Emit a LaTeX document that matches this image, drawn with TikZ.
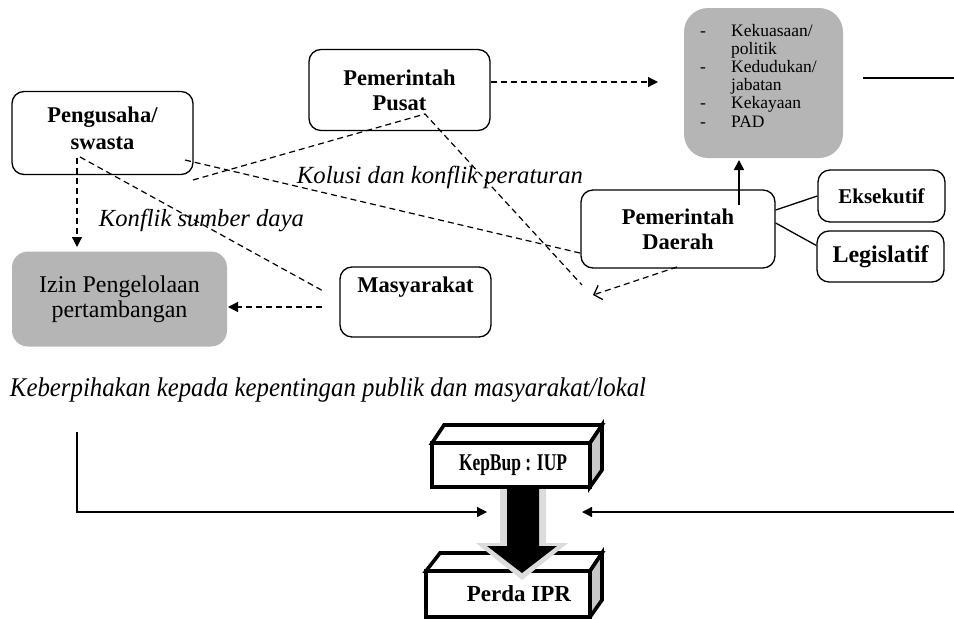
\documentclass[tikz,border=0pt]{standalone}
\usepackage{fontspec}
\usepackage{graphicx}
\setmainfont{Liberation Serif}
\usetikzlibrary{arrows.meta,calc}

\definecolor{boxgray}{RGB}{181,181,181}
\definecolor{sidegray}{RGB}{200,200,200}
\definecolor{shadegray}{RGB}{220,220,220}

\begin{document}
\begin{tikzpicture}[x=1pt,y=-1pt,
  rbox/.style={draw, line width=1.3pt, rounded corners=12pt, align=center,
    inner sep=0pt, font=\fontsize{22.5}{25}\selectfont\bfseries},
  gbox/.style={fill=boxgray, rounded corners=16pt, inner sep=0pt, align=center,
    font=\fontsize{24}{25}\selectfont},
  dline/.style={line width=1.2pt, dash pattern=on 6pt off 4pt},
  tri/.style={-{Triangle[length=10pt,width=10pt]}},
  barb/.style={-{Straight Barb[length=7pt,width=15pt,line width=1.3pt]}},
  slab/.style={line width=3.6pt, line join=miter},
  lbl/.style={inner sep=0pt, anchor=base}
]
\useasboundingbox (0,0) rectangle (954,619);

% ---- actors ----
\node[rbox, minimum width=181pt, minimum height=83pt] (peng) at (102.5,133) {Pengusaha/\\[2pt]swasta\\[-16pt]\mbox{}};
\node[rbox, minimum width=181pt, minimum height=81pt] (pusat) at (399.5,90) {Pemerintah\\Pusat};
\node[rbox, minimum width=194pt, minimum height=78pt] (daerah) at (678,229) {Pemerintah\\Daerah};
\node[rbox, minimum width=127pt, minimum height=52pt, font=\fontsize{21}{24}\selectfont\bfseries] (eks) at (881.5,196) {Eksekutif};
\node[rbox, minimum width=127pt, minimum height=51pt, font=\fontsize{24}{27}\selectfont\bfseries] (leg) at (880.5,256.5) {Legislatif};
\node[rbox, minimum width=151pt, minimum height=70pt] (masy) at (415.5,302) {Masyarakat\\[10pt]\mbox{}};

% ---- gray boxes ----
\node[gbox, minimum width=215pt, minimum height=95pt] (izin) at (119.5,299) {Izin Pengelolaan\\pertambangan};
\node[gbox, rounded corners=24pt, minimum width=159pt, minimum height=150pt] (kuasa) at (763.5,83) {};
\node[inner sep=0pt, anchor=base west, font=\fontsize{17.5}{18.2}\selectfont] (kuasalist) at (700,36)
  {\begin{tabular}[t]{@{}p{31pt}@{}l@{}}
    - & Kekuasaan/\\
      & politik\\
    - & Kedudukan/\\
      & jabatan\\
    - & Kekayaan\\
    - & PAD
  \end{tabular}};

% ---- free ends of connectors ----
\coordinate (kuasatip) at (658,82);
\coordinate (lineA) at (863,78);
\coordinate (lineB) at (954,78);
\coordinate (upstart) at (739,205);
\coordinate (uptip) at (739,160);
\coordinate (pengdown) at (77,158);
\coordinate (izintip) at (77,247);
\coordinate (masystart) at (322,307);
\coordinate (izinleft) at (228,307);
\coordinate (pengA) at (80,157);
\coordinate (masyend) at (325,292);
\coordinate (pengB) at (193,180);
\coordinate (pusatbend) at (425,114);
\coordinate (meet) at (582,285);
\coordinate (pengC) at (185,160);
\coordinate (daerahW) at (580,253);
\coordinate (daerahS) at (677,267);
\coordinate (meettip) at (593,295);

% ---- connectors, upper part ----
\draw[dline, tri] (pusat.east |- kuasatip) -- (kuasatip);
\draw[line width=1.3pt] (lineA) -- (lineB);
\draw[line width=1.6pt, tri] (upstart) -- (uptip);
\draw[line width=1.3pt] ([yshift=19pt]daerah.east) -- (eks.west);
\draw[line width=1.3pt] ([yshift=6pt]daerah.east) -- ([yshift=11pt]leg.west);
\draw[dline, tri] (pengdown) -- (izintip);
\draw[dline, tri] (masystart) -- (izinleft);
\draw[dline] (pengA) -- (masyend);
\draw[dline] (pengB) -- (pusatbend) -- (meet);
\draw[dline] (pengC) -- (daerahW);
\draw[dline, barb] (daerahS) -- (meettip);

% ---- labels ----
\node[lbl] (kolusi) at (440,183) {\resizebox{286pt}{!}{\fontsize{24}{28}\selectfont\itshape Kolusi dan konflik peraturan}};
\node[lbl] (konflik) at (201.5,226) {\resizebox{205pt}{!}{\fontsize{22}{26}\selectfont\itshape Konflik sumber daya}};
\node[lbl] (pihak) at (328,396) {\resizebox{636pt}{\height}{\fontsize{27}{31}\selectfont\itshape Keberpihakan kepada kepentingan publik dan masyarakat/lokal}};

% ---- lower part: KepBup slab ----
\filldraw[slab, fill=white] (432,443) -- (444,425) -- (602,425) -- (590,443) -- cycle;
\filldraw[slab, fill=sidegray] (590,443) -- (602,425) -- (602,470) -- (590,487) -- cycle;
\filldraw[slab, fill=white] (432,443) rectangle (590,487);
\node[inner sep=0pt, font=\fontsize{24}{27}\selectfont\bfseries] (kepbup) at (513,465) {\resizebox{108pt}{\height}{KepBup : IUP}};

% ---- lower part: Perda slab ----
\filldraw[slab, fill=white] (426,571) -- (440,553) -- (602,553) -- (590,571) -- cycle;
\filldraw[slab, fill=sidegray] (590,571) -- (602,553) -- (602,600) -- (590,617) -- cycle;
\filldraw[slab, fill=white] (426,571) rectangle (590,617);
\node[inner sep=0pt, font=\fontsize{23}{26}\selectfont\bfseries] (perda) at (519,594) {Perda IPR};

% ---- block arrow from KepBup to Perda ----
\fill[shadegray] (500,489) -- (546,489) -- (546,543) -- (568,543) -- (522,580)
  -- (476,543) -- (500,543) -- cycle;
\fill[black] (507,489) -- (539,489) -- (539,546) -- (557,546) -- (522,573)
  -- (487,546) -- (507,546) -- cycle;

% ---- side arrows ----
\coordinate (leftTop) at (77,432);
\coordinate (leftCorner) at (77,512);
\coordinate (leftTip) at (487,512);
\coordinate (rightStart) at (954,512);
\coordinate (rightTip) at (582,512);
\draw[line width=1.3pt, tri] (leftTop) -- (leftCorner) -- (leftTip);
\draw[line width=1.3pt, tri] (rightStart) -- (rightTip);
\end{tikzpicture}
\end{document}
